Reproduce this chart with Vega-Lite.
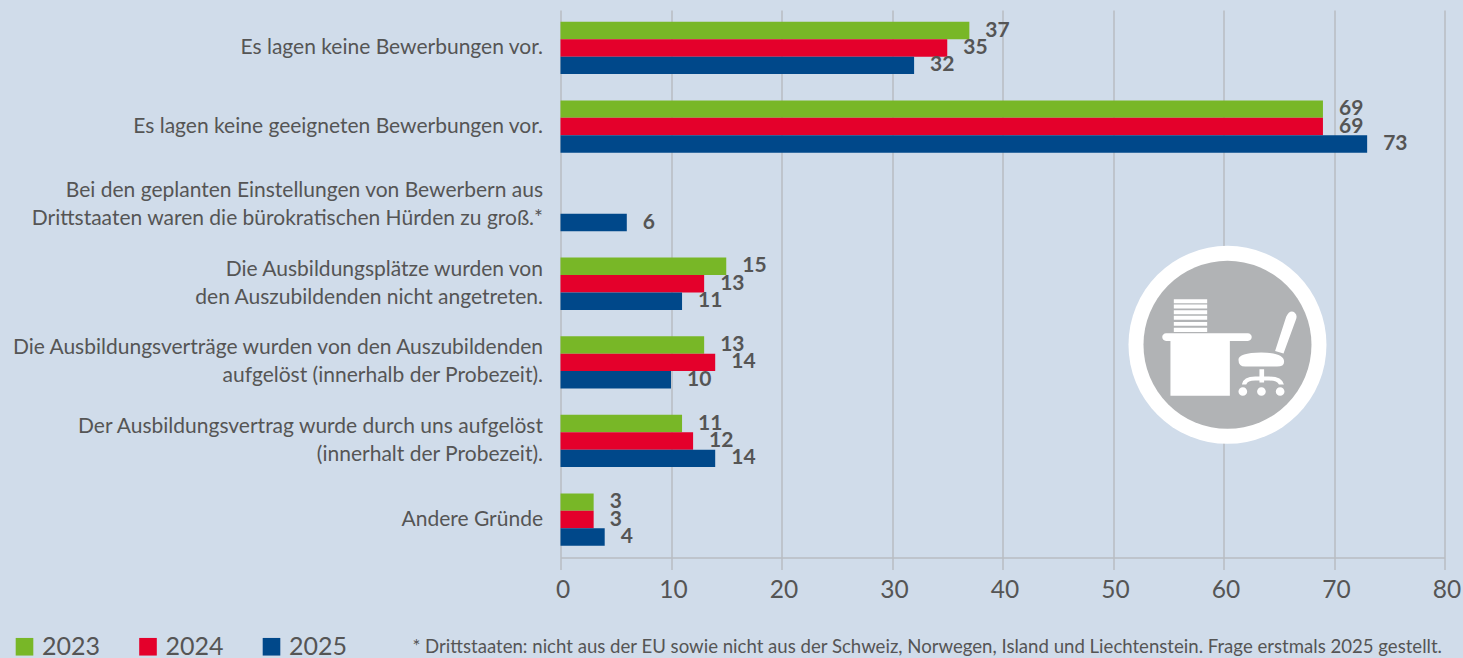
{
"$schema":"https://vega.github.io/schema/vega-lite/v6.json",
"width":884,"height":547.5,
"autosize":"none",
"padding":{"left":560.5,"top":10,"right":18.5,"bottom":100.5},
"background":"#d0dcea",
"config":{"view":{"stroke":null},"font":"Lato"},
"layer":[
{"data":{"name":"bars"},
 "mark":{"type":"bar","clip":false},
 "encoding":{
  "y":{"field":"reason","type":"nominal","sort":null,"scale":{"paddingInner":0.335,"paddingOuter":0.15},
   "axis":{"title":null,"ticks":false,"domain":false,"grid":false,"labelExpr":"split(datum.label,'|')","labelFont":"Lato","labelFontSize":21,"labelColor":"#555555","labelLimit":0,"labelPadding":18,"labelLineHeight":28,"labelAlign":"right","labelBaseline":{"condition":{"test":"indexof(datum.value,'|')>=0","value":"line-bottom"},"value":"middle"}}},
  "yOffset":{"field":"year","type":"nominal","scale":{"paddingInner":0,"paddingOuter":0}},
  "x":{"field":"value","type":"quantitative","scale":{"domain":[0,80],"nice":false},
   "axis":{"values":[0,10,20,30,40,50,60,70,80],"title":"* Drittstaaten: nicht aus der EU sowie nicht aus der Schweiz, Norwegen, Island und Liechtenstein. Frage erstmals 2025 gestellt.","titleFont":"Lato","titleFontSize":18.6,"titleFontWeight":"normal","titleColor":"#555555","titleX":881,"titleY":95,"titleAlign":"right","titleBaseline":"alphabetic","titleAnchor":"end","grid":true,"gridColor":"#b9bdc2","gridWidth":1.5,"domainColor":"#b9bdc2","domainWidth":1.5,"tickColor":"#b9bdc2","tickWidth":1.5,"tickSize":12,"labelFont":"Lato","labelFontSize":24.5,"labelColor":"#555555","labelPadding":9,"labelOffset":2,"labelFlush":false}},
  "color":{"field":"year","type":"nominal","scale":{"domain":["2023","2024","2025"],"range":["#78b727","#e4002b","#00488a"]},
   "legend":{"title":null,"orient":"none","legendX":-548.5,"legendY":624,"direction":"horizontal","symbolType":"square","symbolSize":310,"symbolStrokeWidth":0,"labelFont":"Lato","labelFontSize":25,"labelColor":"#555555","columnPadding":34.5,"labelOffset":5,"symbolOffset":0}}
 }},
{"data":{"name":"bars"},
 "mark":{"type":"text","align":"left","baseline":"middle","dx":16,"font":"Lato","fontSize":21,"fontWeight":"bold","color":"#555555"},
 "encoding":{
  "y":{"field":"reason","type":"nominal","sort":null},
  "yOffset":{"field":"year","type":"nominal"},
  "x":{"field":"value","type":"quantitative"},
  "text":{"field":"value","type":"quantitative"}
 }},
{"data":{"values":[{"icon":"badge"}]},
 "mark":{"type":"point","filled":true,"shape":"circle","size":39204,"color":"#ffffff","opacity":1,"yOffset":-17.5},
 "encoding":{"x":{"datum":60.36},"y":{"datum":"Die Ausbildungsverträge wurden von den Auszubildenden|aufgelöst (innerhalb der Probezeit)."}}},
{"data":{"values":[{"icon":"badge"}]},
 "mark":{"type":"point","filled":true,"shape":"circle","size":28224,"color":"#b1b3b5","opacity":1,"yOffset":-17.5},
 "encoding":{"x":{"datum":60.36},"y":{"datum":"Die Ausbildungsverträge wurden von den Auszubildenden|aufgelöst (innerhalb der Probezeit)."}}},
{"data":{"values":[{"icon":"desk"}]},
 "mark":{"type":"point","filled":true,"size":39204,"color":"#ffffff","opacity":1,"yOffset":-17.5,
  "shape":"M-.542,-.461H-.205V-.421H-.542ZM-.542,-.407H-.205V-.367H-.542ZM-.542,-.35H-.205V-.31H-.542ZM-.542,-.293H-.205V-.253H-.542ZM-.542,-.232H-.205V-.192H-.542ZM-.542,-.172H-.205V-.131H-.542ZM-.62,-.118H.206A.039,.039 0 0 1 .206,-.04H-.62A.039,.039 0 0 1 -.62,-.118ZM-.576,-.04H.024V.515H-.576ZM.481,.061L.593,-.283Q.63,-.36 .68,-.325Q.71,-.3 .69,-.25L.566,.088ZM.111,.15Q.111,.08 .34,.077Q.572,.08 .572,.17Q.572,.219 .5,.219H.18Q.111,.219 .111,.15ZM.323,.246H.37V.38H.323ZM.145,.4Q.16,.32 .28,.32H.42Q.55,.32 .57,.4L.52,.4Q.5,.36 .42,.36H.28Q.2,.36 .19,.4ZM.111,.471A.044,.044 0 1 1 .199,.471A.044,.044 0 1 1 .111,.471ZM.299,.471A.044,.044 0 1 1 .387,.471A.044,.044 0 1 1 .299,.471ZM.488,.471A.044,.044 0 1 1 .576,.471A.044,.044 0 1 1 .488,.471Z"},
 "encoding":{"x":{"datum":60.36},"y":{"datum":"Die Ausbildungsverträge wurden von den Auszubildenden|aufgelöst (innerhalb der Probezeit)."}}}
],
"datasets":{"bars":[
{"reason":"Es lagen keine Bewerbungen vor.","year":"2023","value":37},
{"reason":"Es lagen keine Bewerbungen vor.","year":"2024","value":35},
{"reason":"Es lagen keine Bewerbungen vor.","year":"2025","value":32},
{"reason":"Es lagen keine geeigneten Bewerbungen vor.","year":"2023","value":69},
{"reason":"Es lagen keine geeigneten Bewerbungen vor.","year":"2024","value":69},
{"reason":"Es lagen keine geeigneten Bewerbungen vor.","year":"2025","value":73},
{"reason":"Bei den geplanten Einstellungen von Bewerbern aus|Drittstaaten waren die bürokratischen Hürden zu groß.*","year":"2025","value":6},
{"reason":"Die Ausbildungsplätze wurden von|den Auszubildenden nicht angetreten.","year":"2023","value":15},
{"reason":"Die Ausbildungsplätze wurden von|den Auszubildenden nicht angetreten.","year":"2024","value":13},
{"reason":"Die Ausbildungsplätze wurden von|den Auszubildenden nicht angetreten.","year":"2025","value":11},
{"reason":"Die Ausbildungsverträge wurden von den Auszubildenden|aufgelöst (innerhalb der Probezeit).","year":"2023","value":13},
{"reason":"Die Ausbildungsverträge wurden von den Auszubildenden|aufgelöst (innerhalb der Probezeit).","year":"2024","value":14},
{"reason":"Die Ausbildungsverträge wurden von den Auszubildenden|aufgelöst (innerhalb der Probezeit).","year":"2025","value":10},
{"reason":"Der Ausbildungsvertrag wurde durch uns aufgelöst|(innerhalt der Probezeit).","year":"2023","value":11},
{"reason":"Der Ausbildungsvertrag wurde durch uns aufgelöst|(innerhalt der Probezeit).","year":"2024","value":12},
{"reason":"Der Ausbildungsvertrag wurde durch uns aufgelöst|(innerhalt der Probezeit).","year":"2025","value":14},
{"reason":"Andere Gründe","year":"2023","value":3},
{"reason":"Andere Gründe","year":"2024","value":3},
{"reason":"Andere Gründe","year":"2025","value":4}
]}
}
